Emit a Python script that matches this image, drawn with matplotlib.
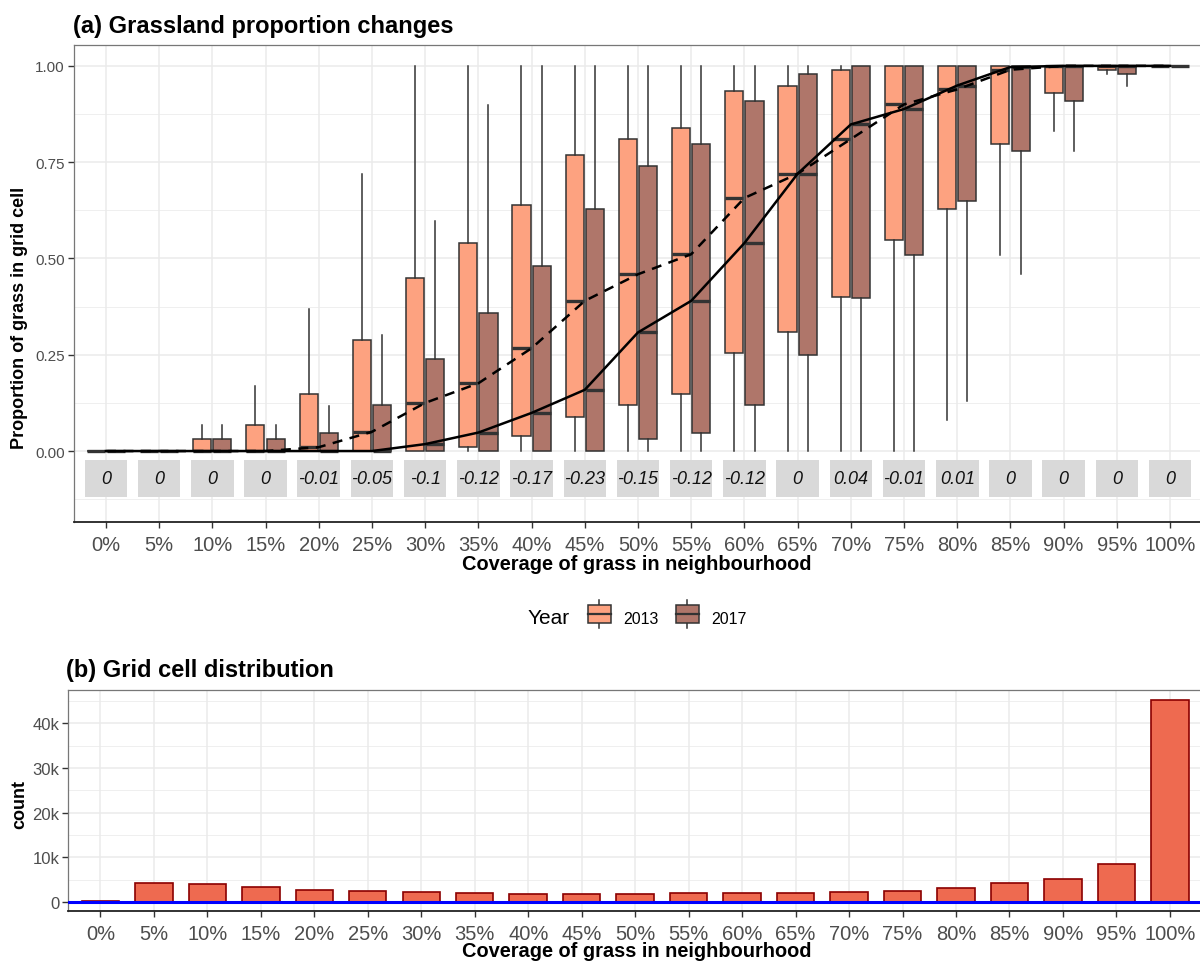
import matplotlib
matplotlib.use('Agg')
import matplotlib.pyplot as plt
from matplotlib.legend_handler import HandlerBase
from matplotlib.patches import Rectangle
from matplotlib.lines import Line2D
from matplotlib.offsetbox import HPacker
import numpy as np

plt.rcParams['font.family'] = ['Liberation Sans', 'DejaVu Sans']

coverage = ['0%', '5%', '10%', '15%', '20%', '25%', '30%', '35%', '40%', '45%', '50%',
            '55%', '60%', '65%', '70%', '75%', '80%', '85%', '90%', '95%', '100%']

# box statistics
wlo_2013 = [0] * 16 + [0.081, 0.51, 0.83, 0.98, 1]
q1_2013 = [0, 0, 0, 0, 0, 0, 0, 0.01, 0.04, 0.088, 0.119, 0.149, 0.254, 0.308, 0.399,
           0.549, 0.629, 0.798, 0.929, 0.989, 1]
med_2013 = [0, 0, 0, 0, 0.01, 0.05, 0.125, 0.176, 0.267, 0.39, 0.459, 0.511, 0.657, 0.72,
            0.81, 0.9, 0.939, 0.99, 1, 1, 1]
q3_2013 = [0, 0, 0.03, 0.068, 0.148, 0.289, 0.449, 0.539, 0.64, 0.769, 0.81, 0.838, 0.934,
           0.949, 0.989, 1, 1, 1, 1, 1, 1]
whi_2013 = [0, 0, 0.068, 0.17, 0.369, 0.718] + [1] * 15

wlo_2017 = [0] * 16 + [0.131, 0.459, 0.78, 0.949, 1]
q1_2017 = [0, 0, 0, 0, 0, 0, 0, 0, 0, 0, 0.031, 0.048, 0.119, 0.25, 0.397, 0.509, 0.649,
           0.779, 0.909, 0.978, 1]
med_2017 = [0, 0, 0, 0, 0, 0, 0.018, 0.048, 0.099, 0.159, 0.308, 0.39, 0.54, 0.72, 0.848,
            0.888, 0.949, 0.997, 1, 1, 1]
q3_2017 = [0, 0, 0.03, 0.03, 0.048, 0.119, 0.239, 0.358, 0.48, 0.629, 0.739, 0.798, 0.909,
           0.978, 1, 1, 1, 1, 1, 1, 1]
whi_2017 = [0, 0, 0.068, 0.068, 0.118, 0.30, 0.598, 0.899] + [1] * 13

diff_labels = ['0', '0', '0', '0', '-0.01', '-0.05', '-0.1', '-0.12', '-0.17', '-0.23', '-0.15',
               '-0.12', '-0.12', '0', '0.04', '-0.01', '0.01', '0', '0', '0', '0']

counts = [300, 4300, 4100, 3250, 2700, 2400, 2150, 1950, 1800, 1800, 1750, 1950, 1950, 1950,
          2150, 2350, 3100, 4200, 5250, 8550, 45250]

col13 = '#FDA280'
col17 = '#AF766A'
edge = '#333333'
grid_c = '#EBEBEB'
tick_c = '#4D4D4D'

x = np.arange(len(coverage))

fig = plt.figure(figsize=(12, 9.62), dpi=100)
ax1 = fig.add_axes([74 / 1200, 1 - 523.3 / 962, 1128 / 1200, 477.6 / 962])
ax2 = fig.add_axes([68.3 / 1200, 1 - 912.3 / 962, 1133.7 / 1200, 221.3 / 962])


def stats(wlo, q1, med, q3, whi):
    return [dict(whislo=a, q1=b, med=c, q3=d, whishi=e) for a, b, c, d, e in zip(wlo, q1, med, q3, whi)]


def style_axes(ax):
    ax.set_axisbelow(True)
    ax.grid(True, which='major', color=grid_c, lw=1.1)
    ax.grid(True, which='minor', axis='y', color=grid_c, lw=0.55)
    for s in ['top', 'right', 'left']:
        ax.spines[s].set_color('#777777')
        ax.spines[s].set_linewidth(0.9)
    ax.spines['bottom'].set_color('#222222')
    ax.spines['bottom'].set_linewidth(1.3)
    ax.tick_params(axis='both', color='#333333', length=4.5, width=1)
    ax.tick_params(axis='x', labelsize=14.5, labelcolor=tick_c, pad=5)
    ax.tick_params(axis='y', labelsize=11, labelcolor=tick_c, pad=2)
    ax.tick_params(which='minor', length=0)
    ax.set_xticks(x)
    ax.set_xticklabels(coverage)
    ax.set_xlim(-0.6, 20.6)


# ---- (a) boxplots
style_axes(ax1)
for st, off, col in [(stats(wlo_2013, q1_2013, med_2013, q3_2013, whi_2013), -0.19, col13),
                     (stats(wlo_2017, q1_2017, med_2017, q3_2017, whi_2017), 0.19, col17)]:
    ax1.bxp(st, positions=x + off, widths=0.34, patch_artist=True, showcaps=False,
            showfliers=False, manage_ticks=False,
            boxprops=dict(facecolor=col, edgecolor=edge, lw=1.1),
            whiskerprops=dict(color=edge, lw=1.1),
            medianprops=dict(color=edge, lw=2.4, solid_capstyle='butt'))

ax1.plot(x, med_2013, color='black', lw=1.8, ls=(0, (4, 3)), zorder=5)
ax1.plot(x, med_2017, color='black', lw=1.8, zorder=5)

ax1.bar(x, 0.0974, bottom=-0.12, width=0.8, color='#D9D9D9', zorder=3)
for xi, lab in zip(x, diff_labels):
    ax1.text(xi, -0.071, lab, ha='center', va='center', fontsize=13, style='italic',
             color='#111111', zorder=4)

ax1.set_ylim(-0.185, 1.055)
ax1.set_yticks([0, 0.25, 0.5, 0.75, 1.0])
ax1.set_yticklabels(['0.00', '0.25', '0.50', '0.75', '1.00'])
ax1.set_yticks([-0.125, 0.125, 0.375, 0.625, 0.875], minor=True)

fig.text(73 / 1200, 1 - 26 / 962, '(a) Grassland proportion changes', fontsize=17,
         fontweight='bold', va='center', ha='left')
fig.text(637 / 1200, 1 - 565 / 962, 'Coverage of grass in neighbourhood', fontsize=14.4,
         fontweight='bold', va='center', ha='center')
fig.text(20 / 1200, 1 - 318 / 962, 'Proportion of grass in grid cell', fontsize=13,
         fontweight='bold', va='center', ha='center', rotation=90)


# ---- legend
class BoxHandler(HandlerBase):
    def create_artists(self, legend, orig_handle, xd, yd, width, height, fontsize, trans):
        fc = orig_handle.get_facecolor()
        bw = width * 0.9
        x0 = xd + (width - bw) / 2
        h = height * 1.2
        y0 = yd + (height - h) / 2
        r = Rectangle((x0, y0), bw, h, facecolor=fc, edgecolor=edge, lw=1.1, transform=trans)
        cx = x0 + bw / 2
        w1 = Line2D([cx, cx], [y0 + h, y0 + h + height * 0.35], color=edge, lw=1.1, transform=trans)
        w2 = Line2D([cx, cx], [y0, y0 - height * 0.35], color=edge, lw=1.1, transform=trans)
        m = Line2D([x0, x0 + bw], [y0 + h / 2] * 2, color=edge, lw=1.6, transform=trans)
        return [w1, w2, r, m]


h13 = Rectangle((0, 0), 1, 1, facecolor=col13)
h17 = Rectangle((0, 0), 1, 1, facecolor=col17)
leg = fig.legend([h13, h17], ['2013', '2017'], handler_map={Rectangle: BoxHandler()},
                 title='Year', loc='center', bbox_to_anchor=(637 / 1200, 1 - 619 / 962),
                 ncol=2, frameon=False, fontsize=11.5, title_fontsize=15,
                 handlelength=1.6, handleheight=1.0, handletextpad=0.7, columnspacing=1.0)
# put the title to the left of the keys
title_box = leg._legend_title_box
body = leg._legend_box._children[1]
leg._legend_box._children = [HPacker(pad=0, sep=12, align='center', children=[title_box, body])]

# ---- (b) counts
style_axes(ax2)
ax2.bar(x, counts, width=0.7, color='#EE6A50', edgecolor='#8B0000', lw=1.2, zorder=2)
ax2.axhline(0, color='#0000FF', lw=2.2, zorder=3)
ax2.set_ylim(-2100, 47500)
ax2.set_yticks([0, 10000, 20000, 30000, 40000])
ax2.set_yticklabels(['0', '10k', '20k', '30k', '40k'])
ax2.set_yticks([5000, 15000, 25000, 35000, 45000], minor=True)
ax2.tick_params(axis='y', labelsize=12)

fig.text(66 / 1200, 1 - 671 / 962, '(b) Grid cell distribution', fontsize=17,
         fontweight='bold', va='center', ha='left')
fig.text(637 / 1200, 1 - 952 / 962, 'Coverage of grass in neighbourhood', fontsize=14.4,
         fontweight='bold', va='center', ha='center')
fig.text(20 / 1200, 1 - 805 / 962, 'count', fontsize=13,
         fontweight='bold', va='center', ha='center', rotation=90)

fig.savefig('out.png', dpi=100)
